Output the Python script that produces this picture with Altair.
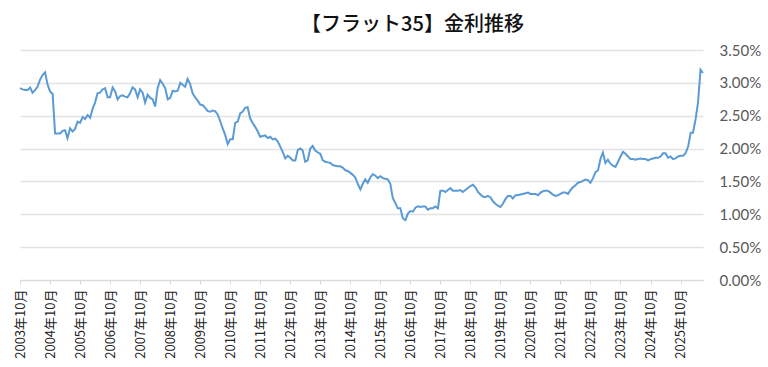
import altair as alt
import pandas as pd

# ---- data (monthly Flat35 rate, %), first month = 2003-10 ----
start_month = "2003-10-01"
r_2003_10 = [2.92, 2.90, 2.89, 2.89, 2.93, 2.85, 2.89, 2.94, 3.05, 3.12, 3.16, 2.97]
r_2004_10 = [2.87, 2.83, 2.23, 2.23, 2.23, 2.27, 2.28, 2.16, 2.31, 2.26, 2.30, 2.41]
r_2005_10 = [2.39, 2.48, 2.45, 2.51, 2.47, 2.60, 2.70, 2.84, 2.85, 2.90, 2.92, 2.78]
r_2006_10 = [2.78, 2.93, 2.87, 2.75, 2.80, 2.81, 2.79, 2.78, 2.84, 2.93, 2.90, 2.78]
r_2007_10 = [2.90, 2.85, 2.70, 2.82, 2.77, 2.75, 2.64, 2.92, 3.04, 2.99, 2.92, 2.75]
r_2008_10 = [2.77, 2.88, 2.87, 2.88, 3.00, 2.97, 2.94, 3.06, 2.98, 2.84, 2.78, 2.73]
r_2009_10 = [2.67, 2.66, 2.62, 2.57, 2.56, 2.58, 2.57, 2.52, 2.42, 2.31, 2.21, 2.07]
r_2010_10 = [2.14, 2.14, 2.39, 2.41, 2.54, 2.56, 2.62, 2.63, 2.46, 2.39, 2.33, 2.26]
r_2011_10 = [2.18, 2.19, 2.20, 2.16, 2.18, 2.14, 2.15, 2.11, 2.03, 1.95, 1.85, 1.89]
r_2012_10 = [1.86, 1.82, 1.82, 1.98, 2.00, 1.97, 1.80, 1.82, 2.00, 2.04, 1.97, 1.94]
r_2013_10 = [1.92, 1.82, 1.80, 1.79, 1.78, 1.75, 1.74, 1.73, 1.73, 1.71, 1.67, 1.66]
r_2014_10 = [1.63, 1.60, 1.56, 1.46, 1.38, 1.46, 1.53, 1.48, 1.56, 1.61, 1.59, 1.55]
r_2015_10 = [1.58, 1.55, 1.54, 1.53, 1.46, 1.25, 1.17, 1.09, 1.09, 0.94, 0.91, 1.01]
r_2016_10 = [1.05, 1.04, 1.10, 1.12, 1.11, 1.12, 1.12, 1.07, 1.09, 1.09, 1.12, 1.09]
r_2017_10 = [1.36, 1.36, 1.34, 1.37, 1.40, 1.36, 1.36, 1.36, 1.37, 1.34, 1.37, 1.40]
r_2018_10 = [1.43, 1.45, 1.41, 1.34, 1.30, 1.27, 1.26, 1.28, 1.26, 1.20, 1.16, 1.13]
r_2019_10 = [1.11, 1.16, 1.23, 1.28, 1.28, 1.24, 1.29, 1.29, 1.30, 1.31, 1.32, 1.33]
r_2020_10 = [1.31, 1.31, 1.31, 1.29, 1.33, 1.35, 1.36, 1.36, 1.33, 1.30, 1.28, 1.29]
r_2021_10 = [1.31, 1.33, 1.33, 1.31, 1.37, 1.41, 1.44, 1.48, 1.49, 1.51, 1.53, 1.52]
r_2022_10 = [1.48, 1.55, 1.64, 1.67, 1.85, 1.94, 1.78, 1.83, 1.77, 1.74, 1.72, 1.80]
r_2023_10 = [1.88, 1.95, 1.92, 1.88, 1.84, 1.84, 1.83, 1.84, 1.85, 1.84, 1.84, 1.82]
r_2024_10 = [1.84, 1.85, 1.86, 1.86, 1.88, 1.93, 1.93, 1.86, 1.88, 1.84, 1.85, 1.88]
r_2025_10 = [1.89, 1.89, 1.93, 2.03, 2.24, 2.24, 2.44, 2.70, 3.20, 3.15]

tick_years = list(range(2003, 2026))  # October label each year
y_ticks = [0.0, 0.005, 0.01, 0.015, 0.02, 0.025, 0.03, 0.035]
title_text = "【フラット35】金利推移"

rates = (r_2003_10 + r_2004_10 + r_2005_10 + r_2006_10 + r_2007_10 + r_2008_10
         + r_2009_10 + r_2010_10 + r_2011_10 + r_2012_10 + r_2013_10 + r_2014_10
         + r_2015_10 + r_2016_10 + r_2017_10 + r_2018_10 + r_2019_10 + r_2020_10
         + r_2021_10 + r_2022_10 + r_2023_10 + r_2024_10 + r_2025_10)
months = pd.date_range(start_month, periods=len(rates), freq="MS")
df = pd.DataFrame({"date": months.strftime("%Y-%m-%d"), "rate": rates})
last_date = months[-1]

chart = alt.Chart(df).transform_calculate(
    value="datum.rate / 100"
).mark_line(color="#5B9BD5", strokeWidth=2).encode(
    x=alt.X(
        "date:T",
        scale=alt.Scale(
            type="utc",
            domain=[alt.DateTime(year=2003, month=10, date=1, utc=True),
                    alt.DateTime(year=int(last_date.year), month=int(last_date.month), date=1, utc=True)],
            nice=False,
        ),
        axis=alt.Axis(
            title=None,
            values=[alt.DateTime(year=y, month=10, date=1, utc=True) for y in tick_years],
            format="%Y年%m月",
            labelAngle=-90,
            labelFont="Noto Sans CJK JP",
            labelFontSize=13,
            labelColor="#222222",
            labelPadding=5,
            tickSize=4,
            tickColor="#d9d9d9",
            domainColor="#d9d9d9",
            grid=False,
            labelOverlap=False,
            labelBound=False,
            labelFlush=False,
        ),
    ),
    y=alt.Y(
        "value:Q",
        scale=alt.Scale(domain=[0, 0.035], nice=False),
        axis=alt.Axis(
            title=None,
            orient="right",
            values=y_ticks,
            format=".2%",
            labelFont="Lato",
            labelFontSize=15,
            labelColor="#595959",
            labelPadding=16,
            ticks=False,
            domain=False,
            gridColor="#e3e3e3",
            gridWidth=1.3,
        ),
    ),
).properties(
    width=683,
    height=230,
    padding={"left": 20, "top": 50, "right": 65, "bottom": 87},
    autosize=alt.AutoSizeParams(type="none"),
    title=alt.TitleParams(
        text=title_text,
        font="Noto Sans CJK JP",
        fontSize=20,
        fontWeight=500,
        color="#111111",
        anchor="middle",
        frame="group",
        dx=51,
        offset=8,
    ),
).configure_view(stroke=None)

chart.save("out.html", embed_options={"renderer": "svg", "actions": False})
